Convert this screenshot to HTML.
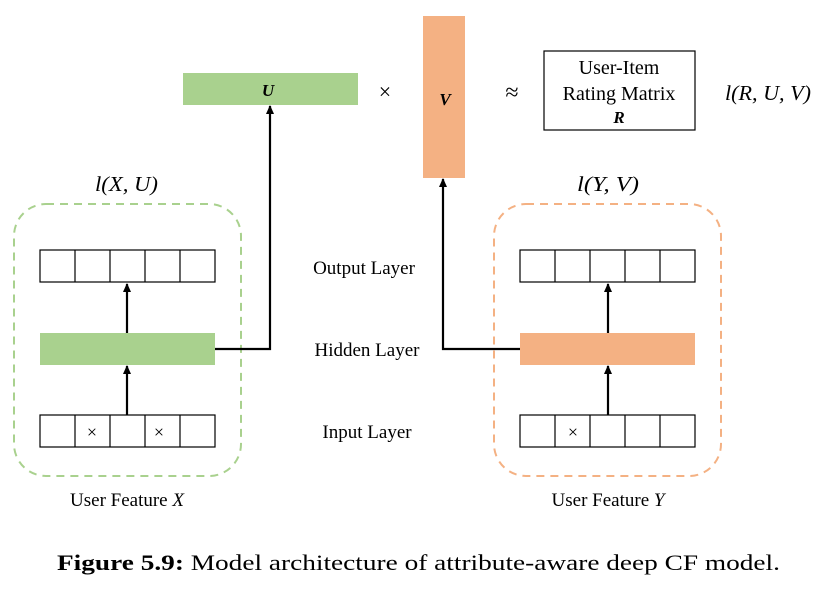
<!DOCTYPE html>
<html><head><style>body{margin:0;background:#fff}svg{display:block}</style></head><body>
<svg width="820" height="589" xmlns="http://www.w3.org/2000/svg" font-family="Liberation Serif, serif">
<defs><marker id="a" markerUnits="userSpaceOnUse" markerWidth="10" markerHeight="10" refX="8" refY="4" orient="auto"><path d="M0,0 L9,4 L0,8 z" fill="#000"/></marker></defs>
<rect x="183" y="73" width="175" height="32" fill="#a9d18e"/>
<text x="268" y="96" text-anchor="middle" font-size="17" font-weight="bold" font-style="italic">U</text>
<text x="385" y="99" text-anchor="middle" font-size="22">×</text>
<rect x="423" y="16" width="42" height="162" fill="#f4b183"/>
<text x="445" y="105" text-anchor="middle" font-size="17" font-weight="bold" font-style="italic">V</text>
<text x="512" y="100" text-anchor="middle" font-size="24">≈</text>
<rect x="544" y="51" width="151" height="79" fill="none" stroke="#000" stroke-width="1.2"/>
<text x="619" y="74" text-anchor="middle" font-size="20">User-Item</text>
<text x="619" y="100" text-anchor="middle" font-size="20">Rating Matrix</text>
<text x="619" y="123" text-anchor="middle" font-size="17" font-weight="bold" font-style="italic">R</text>
<text x="725" y="100" font-size="21" font-style="italic" textLength="86" lengthAdjust="spacingAndGlyphs">l(R, U, V)</text>
<text x="95" y="191" font-size="21" font-style="italic" textLength="63" lengthAdjust="spacingAndGlyphs">l(X, U)</text>
<text x="577" y="191" font-size="21" font-style="italic" textLength="62" lengthAdjust="spacingAndGlyphs">l(Y, V)</text>
<rect x="14" y="204" width="227" height="272" rx="32" fill="none" stroke="#a9d18e" stroke-width="2" stroke-dasharray="8,6"/>
<rect x="494" y="204" width="227" height="272" rx="32" fill="none" stroke="#f4b183" stroke-width="2" stroke-dasharray="8,6"/>
<g fill="none" stroke="#000" stroke-width="1.2">
<rect x="40" y="250" width="175" height="32"/><path d="M75,250v32M110,250v32M145,250v32M180,250v32"/>
<rect x="40" y="415" width="175" height="32"/><path d="M75,415v32M110,415v32M145,415v32M180,415v32"/>
<rect x="520" y="250" width="175" height="32"/><path d="M555,250v32M590,250v32M625,250v32M660,250v32"/>
<rect x="520" y="415" width="175" height="32"/><path d="M555,415v32M590,415v32M625,415v32M660,415v32"/>
</g>
<rect x="40" y="333" width="175" height="32" fill="#a9d18e"/>
<rect x="520" y="333" width="175" height="32" fill="#f4b183"/>
<g font-size="18" text-anchor="middle"><text x="92" y="438">×</text><text x="159" y="438">×</text><text x="573" y="438">×</text></g>
<g stroke="#000" stroke-width="2.2" fill="none" marker-end="url(#a)">
<path d="M127,415V366"/><path d="M127,333V284"/><path d="M608,415V366"/><path d="M608,333V284"/>
<path d="M215,349H270V106"/><path d="M520,349H443V179"/>
</g>
<g font-size="19" text-anchor="middle"><text x="364" y="274">Output Layer</text><text x="367" y="356">Hidden Layer</text><text x="367" y="438">Input Layer</text>
<text x="127" y="506">User Feature <tspan font-style="italic">X</tspan></text><text x="608" y="506">User Feature <tspan font-style="italic">Y</tspan></text></g>
<text x="57" y="570" font-size="22" textLength="723" lengthAdjust="spacingAndGlyphs"><tspan font-weight="bold">Figure 5.9:</tspan> Model architecture of attribute-aware deep CF model.</text>
</svg></body></html>
